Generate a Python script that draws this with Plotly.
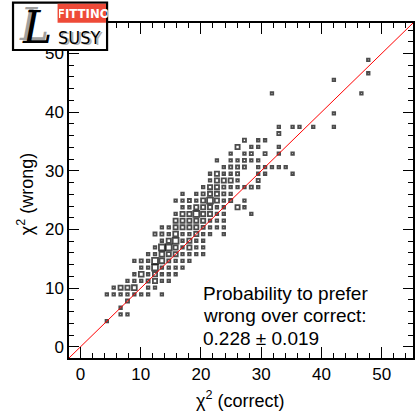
import plotly.graph_objects as go

# 2D histogram definition (50 x 50 bins on both axes)
hist_lo = -1.9
hist_hi = 55.2
n_bins = 50

# non-empty bins: x-bin index, y-bin index, entries
x_bin = [43, 43, 38, 29, 42, 38,
         30, 32, 33, 35, 38,
         30,
         25, 27, 28,
         24, 26, 27, 30,
         23, 25, 26, 28, 30, 32,
         21, 23, 24, 25, 26, 27,
         22, 23, 24, 25, 27, 28, 29, 30, 31,
         20, 21, 22, 23, 24, 27, 28, 32,
         20, 21, 22, 23, 24, 27,
         19, 20, 21, 22, 23, 24, 25, 26, 27,
         16, 18, 19, 20, 21, 22, 23,
         15, 16, 17, 18, 19, 20, 21, 22, 23, 25,
         16, 17, 18, 19, 20, 21, 22, 24, 25,
         15, 16, 17, 18, 19, 20, 21, 22, 26,
         15, 16, 17, 18, 19, 20, 21, 22,
         13, 14, 15, 16, 17, 18, 19, 20, 21, 22,
         12, 13, 14, 15, 16, 17, 18, 19, 20, 22,
         13, 14, 15, 16, 17, 18, 19,
         12, 13, 14, 15, 16, 17, 18, 19,
         11, 12, 13, 14, 15, 16, 17, 18, 19,
         9, 10, 11, 12, 13, 14, 15, 16, 17,
         10, 11, 12, 13, 14, 15, 16,
         9, 10, 11, 12, 13, 14, 15,
         8, 9, 10, 11, 12, 13, 14,
         6, 7, 8, 9, 11, 12,
         5, 6, 7, 8, 9, 10, 11, 13,
         8, 7, 7, 8, 5]
y_bin = [44, 42, 41, 39, 39, 36,
         34, 34, 34, 34, 34,
         33,
         32, 32, 32,
         31, 31, 31, 31,
         30, 30, 30, 30, 30, 30,
         29, 29, 29, 29, 29, 29,
         28, 28, 28, 28, 28, 28, 28, 28, 28,
         27, 27, 27, 27, 27, 27, 27, 27,
         26, 26, 26, 26, 26, 26,
         25, 25, 25, 25, 25, 25, 25, 25, 25,
         24, 24, 24, 24, 24, 24, 24,
         23, 23, 23, 23, 23, 23, 23, 23, 23, 23,
         22, 22, 22, 22, 22, 22, 22, 22, 22,
         21, 21, 21, 21, 21, 21, 21, 21, 21,
         20, 20, 20, 20, 20, 20, 20, 20,
         19, 19, 19, 19, 19, 19, 19, 19, 19, 19,
         18, 18, 18, 18, 18, 18, 18, 18, 18, 18,
         17, 17, 17, 17, 17, 17, 17,
         16, 16, 16, 16, 16, 16, 16, 16,
         15, 15, 15, 15, 15, 15, 15, 15, 15,
         14, 14, 14, 14, 14, 14, 14, 14, 14,
         13, 13, 13, 13, 13, 13, 13,
         12, 12, 12, 12, 12, 12, 12,
         11, 11, 11, 11, 11, 11, 11,
         10, 10, 10, 10, 10, 10,
         9, 9, 9, 9, 9, 9, 9, 9,
         8, 7, 6, 6, 5]
entries = [1, 1, 1, 1, 1, 1,
           1, 1, 1, 1, 1,
           2,
           2, 1, 1,
           4, 1, 1, 1,
           1, 1, 2, 2, 1, 1,
           1, 1, 1, 2, 1, 1,
           1, 2, 2, 2, 1, 1, 1, 1, 1,
           1, 4, 1, 1, 2, 1, 1, 1,
           1, 4, 4, 4, 1, 2,
           1, 4, 4, 2, 1, 1, 1, 2, 1,
           1, 1, 2, 4, 4, 2, 1,
           1, 1, 2, 1, 4, 7, 4, 1, 2, 1,
           1, 1, 4, 4, 4, 1, 1, 4, 1,
           1, 4, 4, 7, 4, 4, 1, 1, 1,
           4, 4, 4, 4, 4, 1, 1, 1,
           1, 1, 4, 4, 4, 4, 2, 1, 1, 1,
           2, 2, 1, 5, 1, 1, 4, 1, 1, 1,
           1, 4, 7, 1, 4, 1, 1,
           1, 7, 7, 4, 1, 4, 1, 1,
           1, 1, 5, 4, 4, 1, 1, 1, 1,
           1, 2, 1, 7, 5, 2, 1, 1, 1,
           1, 1, 7, 1, 1, 1, 1,
           1, 5, 1, 4, 1, 1, 1,
           1, 1, 1, 2, 4, 1, 1,
           1, 4, 4, 5, 1, 1,
           1, 1, 1, 1, 1, 1, 1, 1,
           2, 1, 1, 1, 1]

x_ticks = [0, 10, 20, 30, 40, 50]
prob_text = ["Probability to prefer", "wrong over correct:", "0.228 \u00b1 0.019"]

bw = (hist_hi - hist_lo) / n_bins
xc = [hist_lo + bw * (i + 0.5) for i in x_bin]
yc = [hist_lo + bw * (j + 0.5) for j in y_bin]
sizes = [0.55 * n + 2.0 for n in entries]

W, H = 417, 414
ML, MR, MT, MB = 69, 2, 23, 56
PW, PH = W - ML - MR, H - MT - MB


def px(xp):
    return (xp - ML) / PW


def py(yp):
    return (H - MB - yp) / PH


fig = go.Figure()
fig.add_trace(go.Scatter(
    x=xc, y=yc, mode="markers", hoverinfo="skip",
    marker=dict(symbol="square-open", size=sizes, color="black",
                line=dict(width=1.8, color="black")),
    showlegend=False))
fig.add_trace(go.Scatter(
    x=[hist_lo, hist_hi], y=[hist_lo, hist_hi], mode="lines",
    line=dict(color="red", width=1), showlegend=False, hoverinfo="skip"))

font = "Liberation Sans, Arial, sans-serif"
axis_common = dict(
    range=[hist_lo, hist_hi], tickvals=x_ticks, ticks="inside",
    tickcolor="black", tickwidth=1, showline=True, linecolor="black",
    linewidth=1.5, mirror="ticks", showgrid=False, zeroline=False,
    tickfont=dict(family=font, size=17, color="black"),
    minor=dict(dtick=2, tick0=0, ticks="inside", ticklen=5, tickcolor="black",
               tickwidth=1, showgrid=False),
)

fig.update_layout(
    width=W, height=H,
    margin=dict(l=ML, r=MR, t=MT, b=MB, pad=0),
    paper_bgcolor="white", plot_bgcolor="white",
    xaxis=dict(axis_common, ticklen=11),
    yaxis=dict(axis_common, ticklen=10),
    font=dict(family=font, color="black"),
)

ann = []
ann.append(dict(text="\u03c7<sup>2</sup> (correct)", x=px(241), y=py(399),
                xref="paper", yref="paper", showarrow=False,
                font=dict(family=font, size=18, color="black"),
                xanchor="center", yanchor="middle"))
ann.append(dict(text="\u03c7<sup>2</sup> (wrong)", x=px(25), y=py(194),
                xref="paper", yref="paper", showarrow=False, textangle=-90,
                font=dict(family=font, size=18, color="black"),
                xanchor="center", yanchor="middle"))
for k, line in enumerate(prob_text):
    ann.append(dict(text=line, x=px(201.5), y=py(293.4 + 22.5 * k),
                    xref="paper", yref="paper", showarrow=False,
                    font=dict(family=font, size=19, color="black"),
                    xanchor="left", yanchor="middle"))

# logo
shapes = [
    dict(type="rect", xref="paper", yref="paper", layer="above",
         x0=px(12.7), x1=px(107.3), y0=py(50), y1=py(2.7),
         fillcolor="white", line=dict(color="black", width=2.2)),
    dict(type="rect", xref="paper", yref="paper", layer="above",
         x0=px(57.5), x1=px(106.2), y0=py(22.7), y1=py(3.8),
         fillcolor="#EE4A38", line=dict(width=0)),
]
narrow = "Liberation Sans Narrow, DejaVu Sans Condensed, Liberation Sans"
ann.append(dict(text="<b>FITTINO</b>", x=px(57.5), y=py(13.5), xref="paper", yref="paper",
                showarrow=False, font=dict(family=narrow, size=13, color="white"),
                width=48.7, align="center", borderpad=0,
                xanchor="left", yanchor="middle"))
ann.append(dict(text="SUSY", x=px(81), y=py(38), xref="paper", yref="paper",
                showarrow=False, font=dict(family=narrow, size=18, color="#b0b0b0"),
                xanchor="center", yanchor="middle"))
ann.append(dict(text="SUSY", x=px(79.5), y=py(37), xref="paper", yref="paper",
                showarrow=False, font=dict(family=narrow, size=18, color="black"),
                xanchor="center", yanchor="middle"))
ann.append(dict(text="<i>L</i>", x=px(34), y=py(25), xref="paper", yref="paper",
                showarrow=False, font=dict(family="DejaVu Serif", size=44, color="#a0a0a0"),
                xanchor="center", yanchor="middle"))
ann.append(dict(text="<i>L</i>", x=px(37), y=py(27), xref="paper", yref="paper",
                showarrow=False, font=dict(family="DejaVu Serif", size=44, color="black"),
                xanchor="center", yanchor="middle"))

fig.update_layout(annotations=ann, shapes=shapes)
fig.write_html("out.html", post_script="document.body.style.margin='0';",
               config={"displayModeBar": False})
